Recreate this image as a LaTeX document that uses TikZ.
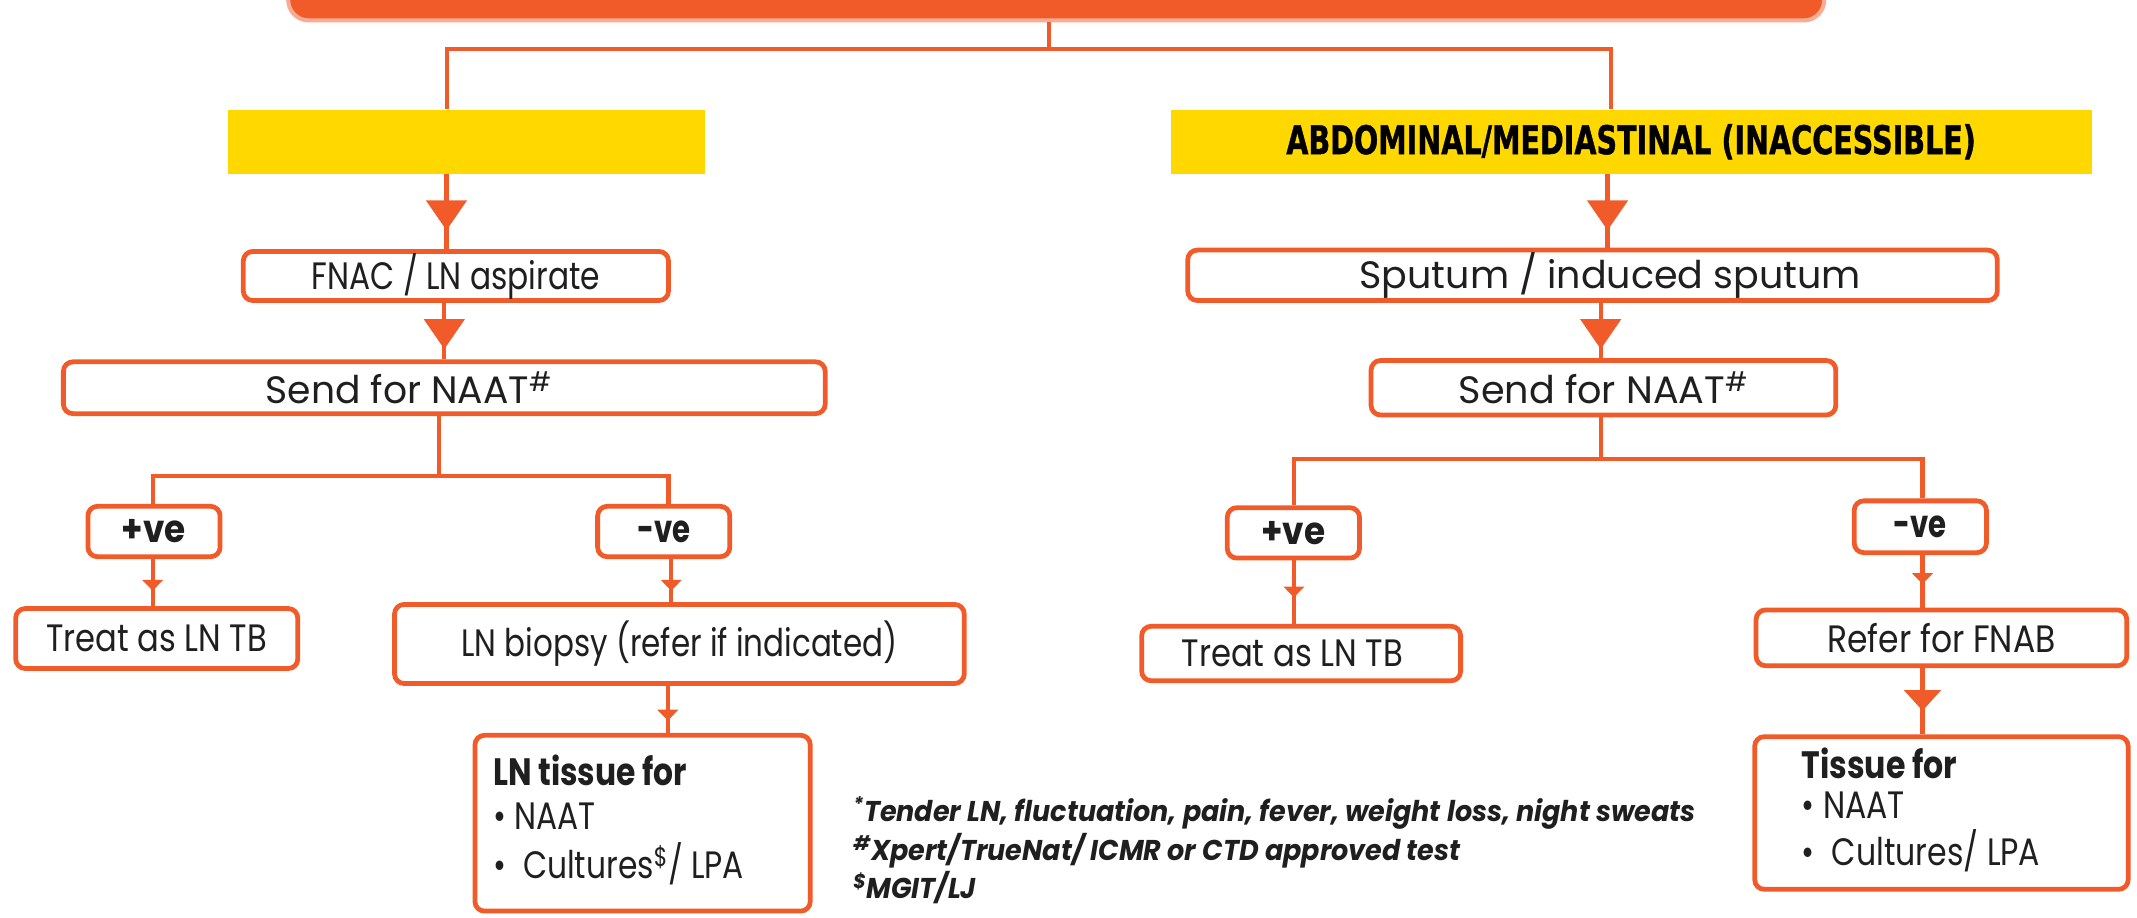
\documentclass[tikz,border=0pt]{standalone}
\usepackage{fontspec}
\setmainfont{Poppins}
\newfontfamily\yfont[BoldFeatures={FakeBold=1.2}]{DejaVu Sans}
\usepackage{graphicx}
\usetikzlibrary{arrows.meta,decorations.markings}
\definecolor{org}{HTML}{F15A29}
\definecolor{ylw}{HTML}{FFD800}
\definecolor{txt}{HTML}{1F1F1F}
\newcommand\T[2]{\resizebox{#1}{\height}{#2}}
\begin{document}
\begin{tikzpicture}[x=1pt,y=-1pt,
  box/.style={draw=org, line width=3.5pt, rounded corners=7pt, fill=white, inner sep=0pt, text=txt, font=\fontsize{28}{33}\selectfont},
  ybox/.style={fill=ylw, inner sep=0pt, minimum height=47pt},
  ln/.style={draw=org, line width=3pt},
  amark/.style n args={3}{postaction={decorate}, decoration={markings, mark=at position #1 with {\arrow{Triangle[width=#2,length=#3]}}}},
  big/.style={amark={#1}{29.5pt}{22pt}},
  small/.style={amark={#1}{15pt}{8pt}}]
\useasboundingbox (0,0) rectangle (1568,673);
% title bar
\node[fill=org, draw=org!50, line width=3pt, rounded corners=15pt, minimum width=1127pt, minimum height=54pt, inner sep=0pt] (title) at (775,-12) {};
% section headers
\node[ybox, minimum width=350pt] (yellowL) at (342.6,104) {};
\node[ybox, minimum width=675.7pt, text=black] (yellowR) at (1196.8,104) {\resizebox{506pt}{22pt}{\yfont\bfseries\fontsize{27.4}{30}\selectfont ABDOMINAL/MEDIASTINAL (INACCESSIBLE)}};
% left branch
\node[box, minimum width=312pt, minimum height=36pt] (fnac) at (334.5,202.5) {\T{211.6pt}{FNAC / LN aspirate}};
\node[box, minimum width=559pt, minimum height=38pt] (sendL) at (326,284.5) {\T{210pt}{Send for NAAT\textsuperscript{\#}}\kern52pt};
\node[box, minimum width=97pt, minimum height=37pt] (posL) at (113,390) {\T{47pt}{\bfseries +ve}};
\node[box, minimum width=97pt, minimum height=37pt] (negL) at (487,390) {\T{39pt}{\bfseries -ve}};
\node[box, minimum width=207pt, minimum height=44pt] (treatL) at (115,468.5) {\T{162pt}{Treat as LN TB}};
\node[box, minimum width=418pt, minimum height=58pt] (biopsy) at (498.5,472.5) {\T{320pt}{LN biopsy (refer if indicated)}};
\node[box, minimum width=246pt, minimum height=129pt, font=\fontsize{28}{32.5}\selectfont] (lnt) at (471.5,604) {\T{184pt}{\begin{tabular}{@{}l@{}}{\bfseries LN tissue for}\\ \textbullet{} NAAT\\ \textbullet{}\ \ Cultures\textsuperscript{\$}/ LPA\end{tabular}}\kern35pt};
% right branch
\node[box, minimum width=594pt, minimum height=37pt] (sput) at (1168.5,202) {\kern26pt\T{368pt}{Sputum / induced sputum}};
\node[box, minimum width=341pt, minimum height=40pt] (sendR) at (1176.5,284.5) {\T{212.5pt}{Send for NAAT\textsuperscript{\#}}};
\node[box, minimum width=97pt, minimum height=37pt] (posR) at (949,391) {\T{47pt}{\bfseries +ve}};
\node[box, minimum width=97pt, minimum height=38pt] (negR) at (1409,386.5) {\T{39pt}{\bfseries -ve}};
\node[box, minimum width=234pt, minimum height=40pt] (treatR) at (954.7,479.5) {\T{162.5pt}{Treat as LN TB}\kern13pt};
\node[box, minimum width=272pt, minimum height=41pt] (refer) at (1424.5,468) {\T{167.6pt}{Refer for FNAB}};
\node[box, minimum width=274pt, minimum height=112pt, font=\fontsize{28}{29}\selectfont] (tis) at (1424.5,596.5) {\T{175pt}{\begin{tabular}{@{}l@{}}{\bfseries Tissue for}\\ \textbullet{} NAAT\\ \textbullet{}\ \ Cultures/ LPA\end{tabular}}\kern30pt};
% footnotes
\node[anchor=base west, inner sep=0pt, text=txt, font=\fontsize{21}{27.5}\selectfont\bfseries\itshape] (notes) at (626,603) {\T{618pt}{\begin{tabular}[t]{@{}l@{}}\textsuperscript{*}Tender LN, fluctuation, pain, fever, weight loss, night sweats\\ \textsuperscript{\#}Xpert/TrueNat/ ICMR or CTD approved test\\ \textsuperscript{\$}MGIT/LJ\end{tabular}}};
% x positions of connectors
\coordinate (xT) at (770,0);
\coordinate (xL0) at (328,0);
\coordinate (xL1) at (327.6,0);
\coordinate (xL2) at (326,0);
\coordinate (xL3) at (322,0);
\coordinate (xPL) at (112,0);
\coordinate (xNL) at (490.5,0);
\coordinate (xNL2) at (492.5,0);
\coordinate (xNL3) at (490,0);
\coordinate (xR0) at (1182,0);
\coordinate (xR1) at (1179.5,0);
\coordinate (xR2) at (1174.5,0);
\coordinate (xPR) at (949.4,0);
\coordinate (xNR) at (1410.6,0);
\coordinate (yT) at (0,36);
\coordinate (yBL) at (0,349);
\coordinate (yBR) at (0,337);
% connectors
\draw[ln] (title.south -| xT) -- (xT |- yT);
\draw[ln] (yellowL.north -| xL0) |- (xR0 |- yT) -- (yellowR.north -| xR0);
\draw[ln, big=41.3pt] (yellowL.south -| xL1) -- (fnac.north -| xL1);
\draw[ln, big=33.9pt] (fnac.south -| xL2) -- (sendL.north -| xL2);
\draw[ln] (sendL.south -| xL3) -- (xL3 |- yBL);
\draw[ln] (posL.north -| xPL) |- (xNL |- yBL) -- (negL.north -| xNL);
\draw[ln, small=23.2pt] (posL.south -| xPL) -- (treatL.north -| xPL);
\draw[ln, small=23.2pt] (negL.south -| xNL2) -- (biopsy.north -| xNL2);
\draw[ln, small=25.5pt] (biopsy.south -| xNL3) -- (lnt.north -| xNL3);
\draw[ln, big=41.3pt] (yellowR.south -| xR1) -- (sput.north -| xR1);
\draw[ln, big=33.9pt] (sput.south -| xR2) -- (sendR.north -| xR2);
\draw[ln] (sendR.south -| xR2) -- (xR2 |- yBR);
\draw[ln] (posR.north -| xPR) |- (xNR |- yBR) -- (negR.north -| xNR);
\draw[ln, small=27.1pt] (posR.south -| xPR) -- (treatR.north -| xPR);
\draw[ln, small=21.3pt] (negR.south -| xNR) -- (refer.north -| xNR);
\draw[ln, amark={31.2pt}{26.5pt}{15pt}] (refer.south -| xNR) -- (tis.north -| xNR);
\end{tikzpicture}
\end{document}
